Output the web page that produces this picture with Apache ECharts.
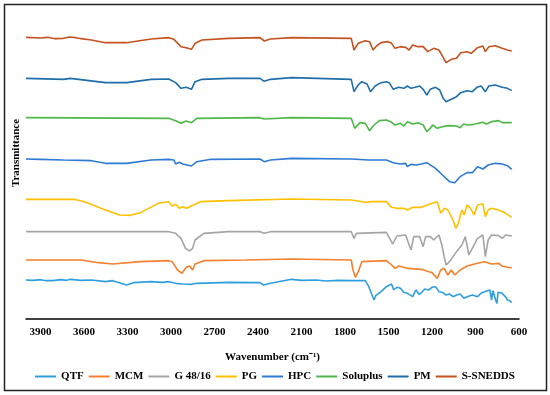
<!DOCTYPE html>
<html>
<head>
<meta charset="utf-8">
<script src="https://cdn.jsdelivr.net/npm/echarts@6/dist/echarts.min.js"></script>
<style>html,body{margin:0;padding:0;background:#fff}#chart{width:550px;height:395px}</style>
</head>
<body>
<div id="chart"></div>
<script>
// Series names (legend order)
const seriesNames = ['QTF', 'MCM', 'G 48/16', 'PG', 'HPC', 'Soluplus', 'PM', 'S-SNEDDS'];
// x tick labels (wavenumber, cm-1)
const xTicks = [3900, 3600, 3300, 3000, 2700, 2400, 2100, 1800, 1500, 1200, 900, 600];

// Each spectrum: [wavenumber (cm-1), offset transmittance (a.u.)]
const qtf = [[4000,117],[3950,116],[3900,118],[3860,115],[3815,115],[3760,118],[3720,116],[3694,119],[3620,116],[3549,117],[3452,112],[3403,115],[3306,102],[3258,109],[3137,112],[3060,110],[3016,112],[2968,107],[2919,105],[2859,104],[2822,107],[2604,110],[2386,109],[2362,102],[2314,107],[2169,119],[2100,116],[2000,117],[1930,114],[1850,116],[1757,115],[1660,115],[1636,97],[1600,57],[1588,70],[1575,72],[1551,82],[1515,97],[1479,105],[1465,88],[1455,82],[1440,95],[1418,92],[1395,80],[1370,77],[1333,67],[1320,80],[1309,87],[1290,74],[1273,79],[1250,90],[1224,87],[1200,95],[1176,97],[1152,82],[1130,80],[1103,72],[1080,75],[1055,67],[1030,72],[1006,75],[980,62],[958,67],[922,72],[886,67],[860,78],[837,82],[801,87],[789,57],[780,85],[769,82],[760,55],[752,47],[745,80],[740,82],[716,77],[690,65],[680,57],[665,55],[650,49]];
const mcm = [[4000,177],[3621,177],[3500,169],[3403,165],[3210,172],[3016,175],[2992,172],[2955,147],[2924,137],[2895,155],[2871,159],[2851,147],[2834,165],[2774,175],[2483,177],[2169,180],[1757,177],[1745,147],[1728,125],[1709,142],[1684,172],[1515,175],[1479,162],[1455,152],[1430,159],[1370,152],[1273,149],[1200,139],[1164,122],[1140,147],[1116,152],[1091,132],[1067,147],[1043,132],[1006,147],[958,159],[886,167],[837,172],[789,165],[740,167],[716,159],[680,155],[650,154]];
const g4816 = [[4000,262],[3016,262],[2968,257],[2931,242],[2900,212],[2871,204],[2851,212],[2834,237],[2774,257],[2604,262],[2386,262],[2357,257],[2314,262],[1757,262],[1738,242],[1721,257],[1515,260],[1471,225],[1442,249],[1382,252],[1345,207],[1326,247],[1285,247],[1261,217],[1244,247],[1212,247],[1188,237],[1152,252],[1132,222],[1116,187],[1103,162],[1079,172],[1055,187],[1031,202],[994,222],[970,247],[946,192],[922,212],[886,242],[849,252],[832,187],[813,237],[789,252],[740,250],[716,242],[692,252],[650,249]];
const pg = [[4000,359],[3670,359],[3597,352],[3452,327],[3355,312],[3282,311],[3210,319],[3089,347],[3016,352],[2992,339],[2968,344],[2943,332],[2919,337],[2895,332],[2871,337],[2846,342],[2798,352],[2604,355],[2169,360],[1757,357],[1660,350],[1612,352],[1515,352],[1479,335],[1442,332],[1394,332],[1370,327],[1333,335],[1273,335],[1200,347],[1164,352],[1140,317],[1116,332],[1091,327],[1055,297],[1036,272],[1019,287],[994,327],[978,312],[958,342],[934,332],[910,312],[886,342],[849,345],[832,307],[813,327],[789,332],[740,327],[692,317],[650,305]];
const hpc = [[4000,480],[3900,479],[3742,477],[3549,475],[3452,467],[3306,467],[3137,477],[3016,479],[2980,477],[2968,465],[2943,470],[2919,465],[2859,459],[2822,472],[2725,479],[2386,480],[2357,472],[2314,477],[2169,482],[1757,480],[1636,477],[1515,477],[1467,469],[1418,465],[1382,467],[1370,457],[1345,464],[1309,462],[1273,465],[1236,469],[1176,452],[1128,432],[1079,412],[1043,409],[1006,427],[958,439],[922,439],[886,457],[849,450],[813,462],[764,467],[716,465],[680,460],[650,449]];
const soluplus = [[4000,604],[3016,602],[2968,595],[2931,587],[2895,594],[2859,589],[2822,602],[2386,604],[2357,600],[2169,604],[1757,602],[1733,572],[1697,589],[1660,587],[1631,565],[1600,582],[1563,595],[1515,597],[1486,592],[1455,582],[1418,587],[1394,579],[1370,592],[1333,585],[1297,589],[1261,582],[1236,562],[1212,572],[1195,582],[1164,572],[1128,577],[1079,580],[1031,579],[1006,574],[982,585],[958,582],[910,584],[849,590],[825,585],[789,592],[740,595],[716,589],[680,589],[650,589]];
const pm = [[4000,722],[3742,719],[3694,722],[3452,709],[3306,709],[3137,719],[3016,720],[2968,709],[2931,692],[2895,695],[2859,689],[2834,712],[2786,719],[2604,722],[2386,722],[2357,713],[2314,719],[2169,724],[1757,719],[1738,682],[1709,702],[1684,712],[1648,705],[1624,682],[1592,699],[1551,709],[1515,712],[1495,709],[1467,689],[1430,695],[1394,692],[1370,699],[1345,692],[1316,695],[1285,699],[1261,689],[1236,672],[1212,689],[1176,695],[1147,687],[1123,662],[1103,652],[1067,659],[1031,667],[1002,679],[958,685],[922,682],[890,695],[861,699],[832,682],[808,699],[764,702],[716,695],[680,692],[650,685]];
const ssnedds = [[4000,845],[3900,843],[3850,845],[3800,841],[3742,842],[3700,846],[3657,844],[3620,841],[3549,837],[3452,829],[3306,829],[3137,840],[3016,844],[2980,839],[2931,817],[2895,814],[2859,809],[2834,827],[2786,837],[2604,842],[2386,844],[2357,834],[2314,840],[2169,844],[1757,842],[1738,807],[1709,827],[1660,835],[1631,832],[1607,807],[1583,819],[1551,829],[1503,832],[1479,827],[1455,812],[1418,817],[1382,815],[1358,807],[1333,822],[1297,817],[1261,817],[1229,802],[1188,812],[1152,807],[1123,785],[1103,769],[1067,779],[1031,782],[1002,799],[958,802],[929,797],[886,814],[849,819],[832,802],[808,817],[764,820],[716,812],[680,807],[650,804]];

const seriesData = [qtf, mcm, g4816, pg, hpc, soluplus, pm, ssnedds];
const colors = ['#2E9FDF', '#F5802E', '#A5A5A5', '#FFC000', '#2D7BD3', '#4DB848', '#1F6EAA', '#C5521F'];

const FONT = '"Liberation Serif", "Times New Roman", serif';
const chart = echarts.init(document.getElementById('chart'), null, {renderer: 'canvas'});
chart.setOption({
  animation: false,
  backgroundColor: '#fff',
  color: colors,
  grid: {left: 26, right: 31, top: 20, bottom: 76, containLabel: false, outerBoundsMode: 'none'},
  legend: {
    bottom: 8, left: 'center',
    itemWidth: 21, itemHeight: 2, itemGap: 5, icon: 'rect',
    textStyle: {fontFamily: FONT, fontWeight: 'bold', fontSize: 11, color: '#000'},
    data: seriesNames
  },
  xAxis: {
    type: 'value', inverse: true, min: 600, max: 4000, interval: 300,
    name: 'Wavenumber (cm\u207B\u00B9)', nameLocation: 'middle', nameGap: 33,
    nameTextStyle: {fontFamily: FONT, fontWeight: 'bold', fontSize: 11, color: '#000'},
    axisLine: {show: true, lineStyle: {color: '#000', width: 1.5}},
    axisTick: {show: false},
    splitLine: {show: false},
    axisLabel: {
      fontFamily: FONT, fontWeight: 'bold', fontSize: 11, color: '#000', margin: 8,
      formatter: v => (xTicks.indexOf(v) >= 0 ? String(v) : '')
    }
  },
  yAxis: {
    type: 'value', min: 0, max: 897, show: false
  },
  graphic: [
    {type: 'rect', shape: {x: 4.5, y: 4.5, width: 542, height: 386}, style: {fill: 'none', stroke: '#222', lineWidth: 1.5}, silent: true},
    {type: 'text', x: 16, y: 153, rotation: Math.PI / 2, style: {text: 'Transmittance', fontFamily: FONT, fontWeight: 'bold', fontSize: 11, fill: '#000', align: 'center', verticalAlign: 'middle'}}
  ],
  series: seriesNames.map((n, i) => ({
    name: n, type: 'line', data: seriesData[i], symbol: 'none', showSymbol: false,
    lineStyle: {width: 1.6, color: colors[i]}, itemStyle: {color: colors[i]}
  }))
});
</script>
</body>
</html>
